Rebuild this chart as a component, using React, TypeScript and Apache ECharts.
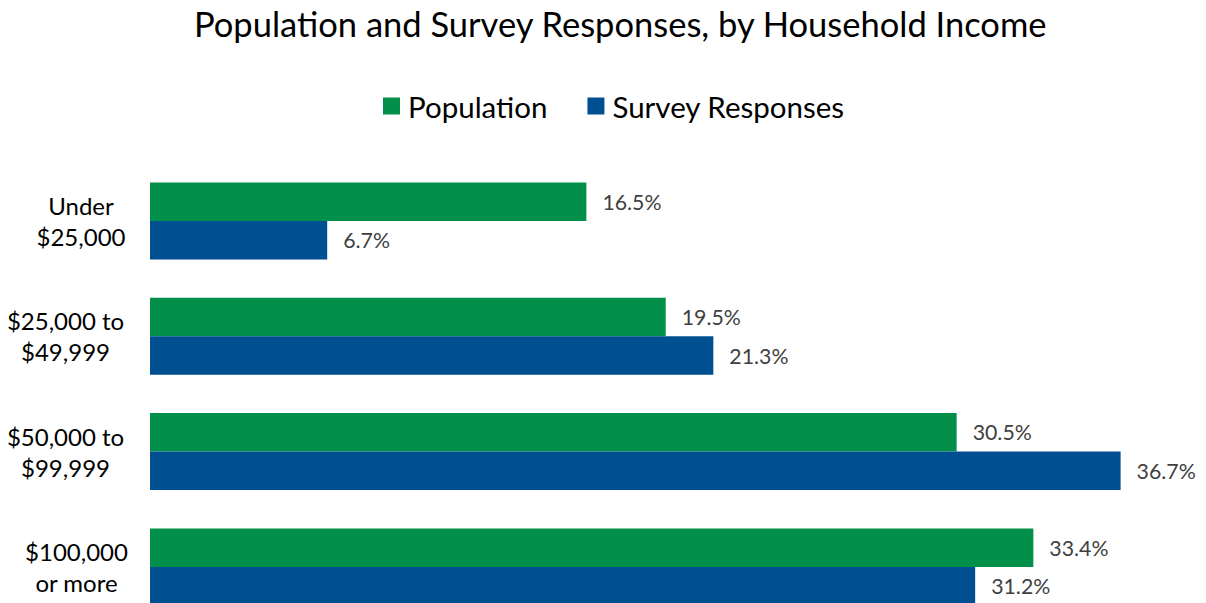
import React, { useEffect, useRef } from "react";
import * as echarts from "echarts";

const categories = ["Under\n$25,000", "$25,000 to\n$49,999", "$50,000 to\n$99,999", "$100,000\nor more"];
const populationValues = [16.5, 19.5, 30.5, 33.4];
const surveyValues = [6.7, 21.3, 36.7, 31.2];
const seriesNames = ["Population", "Survey Responses"];
const titleText = "Population and Survey Responses, by Household Income";

const FONT = "Lato, 'Liberation Sans', sans-serif";

export default function App() {
  const ref = useRef<HTMLDivElement>(null);
  useEffect(() => {
    if (!ref.current) return;
    const chart = echarts.init(ref.current, undefined, { renderer: "svg" });
    const blockWidths = [86, 117, 117, 95];
    const rich: Record<string, any> = {};
    blockWidths.forEach((w, i) => {
      rich["c" + i] = { width: w, align: "center", fontSize: 24, fontFamily: FONT, color: "#000000", lineHeight: 31 };
    });
    const labelCfg = {
      show: true,
      position: "right",
      distance: 16,
      formatter: (p: any) => p.value.toFixed(1) + "%",
      fontFamily: FONT,
      fontSize: 21.3,
      color: "#404040",
    };
    chart.setOption({
      animation: false,
      backgroundColor: "#ffffff",
      textStyle: { fontFamily: FONT },
      title: {
        text: titleText,
        left: 189,
        top: 1,
        textStyle: { fontFamily: FONT, fontSize: 34.5, fontWeight: "normal", color: "#000000" },
      },
      legend: {
        data: seriesNames,
        left: 383,
        top: 91,
        padding: 0,
        itemWidth: 17,
        itemHeight: 17,
        itemGap: 40,
        icon: "rect",
        textStyle: { fontFamily: FONT, fontSize: 29.5, color: "#000000", padding: [0, 0, 0, 3] },
      },
      grid: { left: 150, top: 163.3, width: 1005, height: 461.3, containLabel: false },
      xAxis: {
        type: "value",
        min: 0,
        max: 38,
        show: false,
      },
      yAxis: {
        type: "category",
        data: categories,
        inverse: true,
        axisLine: { show: false },
        axisTick: { show: false },
        splitLine: { show: false },
        axisLabel: {
          margin: 26,
          align: "right",
          formatter: (value: string, idx: number) =>
            value.split("\n").map((l) => `{c${idx}|${l}}`).join("\n"),
          rich,
        },
      },
      series: [
        {
          name: seriesNames[0],
          type: "bar",
          data: populationValues,
          barWidth: 38.5,
          barGap: "0%",
          itemStyle: { color: "#028F4A" },
          label: labelCfg,
        },
        {
          name: seriesNames[1],
          type: "bar",
          data: surveyValues,
          barWidth: 38.5,
          barGap: "0%",
          itemStyle: { color: "#004F91" },
          label: labelCfg,
        },
      ],
    });
    return () => chart.dispose();
  }, []);
  return (
    <div
      ref={ref}
      style={{ position: "fixed", left: 0, top: 0, width: 1206, height: 650, background: "#fff" }}
    />
  );
}
